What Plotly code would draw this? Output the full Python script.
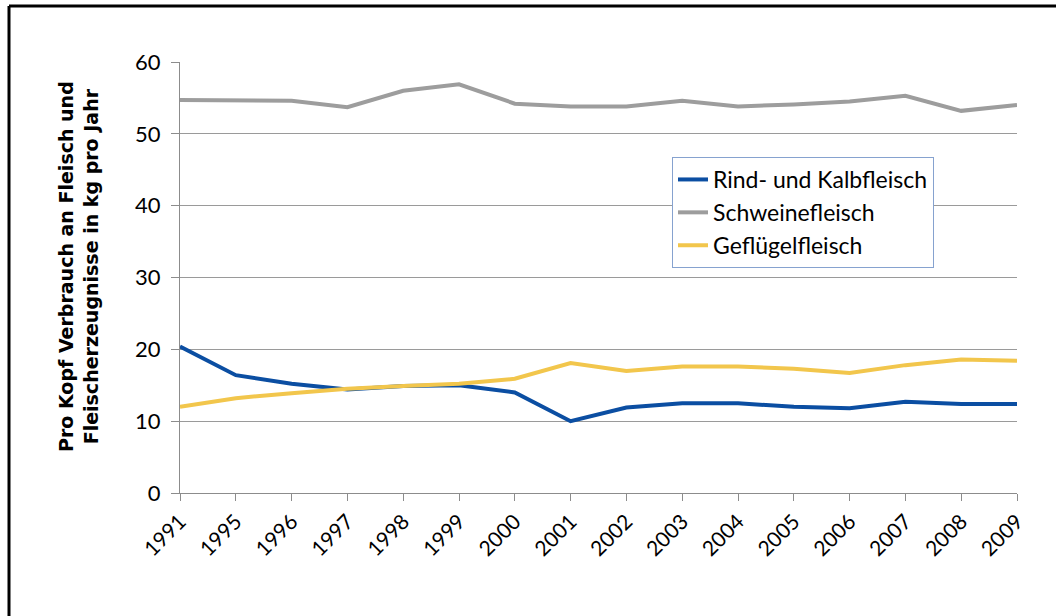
import plotly.graph_objects as go

# Pro-Kopf-Verbrauch (kg pro Jahr) nach Fleischart
jahre = ["1991", "1995", "1996", "1997", "1998", "1999", "2000", "2001",
         "2002", "2003", "2004", "2005", "2006", "2007", "2008", "2009"]
rind_kalb = [20.4, 16.4, 15.2, 14.4, 14.9, 15.0, 14.0, 10.0,
             11.9, 12.5, 12.5, 12.0, 11.8, 12.7, 12.4, 12.4]
schwein = [54.7, 54.7, 54.6, 53.7, 56.0, 56.9, 54.2, 53.8,
           53.8, 54.6, 53.8, 54.1, 54.5, 55.3, 53.2, 54.0]
gefluegel = [12.0, 13.2, 13.9, 14.5, 14.9, 15.2, 15.9, 18.1,
             17.0, 17.6, 17.6, 17.3, 16.7, 17.8, 18.6, 18.4]

serien = [
    ("Rind- und Kalbfleisch", rind_kalb, "#0b4ea2"),
    ("Schweinefleisch", schwein, "#9d9d9d"),
    ("Geflügelfleisch", gefluegel, "#f2c64c"),
]

titel = "Pro Kopf Verbrauch an Fleisch und<br>Fleischerzeugnisse in kg pro Jahr"

label_font = "Lato, 'Open Sans', sans-serif"

fig = go.Figure()
for name, werte, farbe in serien:
    fig.add_trace(go.Scatter(
        x=jahre, y=werte, name=name, mode="lines",
        line=dict(color=farbe, width=4),
    ))

# plot area in pixels: x 180..1017, y 62..493
L, R, T, B = 180, 39, 62, 123
W, H = 1056, 616
pw, ph = W - L - R, H - T - B

def px_x(p):
    return (p - L) / pw

def px_y(p):
    return (H - B - p) / ph

fig.update_layout(
    width=W, height=H,
    margin=dict(l=L, r=R, t=T, b=B),
    paper_bgcolor="white", plot_bgcolor="white",
    showlegend=True,
    legend=dict(
        x=px_x(672), y=px_y(157), xanchor="left", yanchor="top",
        bgcolor="white", bordercolor="#86a2cf", borderwidth=1,
        font=dict(family=label_font, size=23, color="black"),
        tracegroupgap=0, itemwidth=30,
    ),
    xaxis=dict(
        type="category", range=[0, len(jahre) - 1],
        showgrid=False, showline=True, linecolor="#8c8c8c", linewidth=1,
        ticks="outside", ticklen=7, tickcolor="#8c8c8c", tickwidth=1,
        tickangle=-45, tickfont=dict(family=label_font, size=21, color="black"),
        fixedrange=True,
    ),
    yaxis=dict(
        range=[0, 60], dtick=10, tick0=0,
        showgrid=True, gridcolor="#9a9a9a", gridwidth=1,
        zeroline=False, showline=True, linecolor="#8c8c8c", linewidth=1,
        ticks="outside", ticklen=8, tickcolor="#8c8c8c",
        ticklabelstandoff=6,
        tickfont=dict(family=label_font, size=22, color="black"),
        fixedrange=True,
    ),
    annotations=[
        dict(text=titel, textangle=-90, xref="paper", yref="paper",
             x=px_x(78), y=px_y(267), xanchor="center", yanchor="middle",
             showarrow=False, align="center",
             font=dict(family="'DejaVu Sans', Verdana, sans-serif", size=19,
                       color="black", weight="bold")),
    ],
    shapes=[
        dict(type="line", xref="paper", yref="paper",
             x0=px_x(9), x1=px_x(1060), y0=px_y(6), y1=px_y(6),
             line=dict(color="black", width=3)),
        dict(type="line", xref="paper", yref="paper",
             x0=px_x(9), x1=px_x(9), y0=px_y(6), y1=px_y(620),
             line=dict(color="black", width=3)),
    ],
)

fig.write_html("out.html")
